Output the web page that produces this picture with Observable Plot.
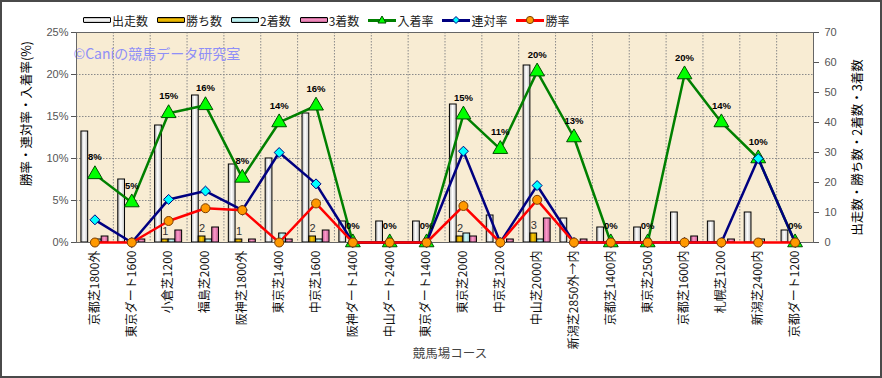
<!DOCTYPE html>
<html>
<head>
<meta charset="utf-8">
<script src="https://cdn.jsdelivr.net/npm/d3@7"></script>
<script src="https://cdn.jsdelivr.net/npm/@observablehq/plot@0.6"></script>
<style>
  body { margin: 0; background: #fff; }
  #wrap { position: relative; width: 882px; height: 378px; overflow: hidden;
          font-family: "Liberation Sans", "Noto Sans CJK JP", sans-serif; }
  #frame { position: absolute; left: 0; top: 0; width: 882px; height: 378px; box-sizing: border-box;
           border: 2px solid #4a4a4a; pointer-events: none; }
  #legend { position: absolute; left: 83px; top: 12px; display: flex; gap: 9px; align-items: center;
            font-size: 12px; color: #222; font-family: "Noto Sans CJK JP", "Liberation Sans", sans-serif; }
  .item { display: flex; align-items: center; gap: 1px; height: 16px; }
  .sw { width: 26px; height: 4px; border: 1.5px solid #000; border-radius: 1px; }
  .ln { position: relative; width: 28px; height: 3px; }
  .mk { position: absolute; left: 50%; top: 50%; transform: translate(-50%, -50%); }
</style>
</head>
<body>
<div id="wrap">
  <div id="chart"></div>
  <div id="legend"></div>
  <div id="frame"></div>
</div>
<script>
const categories = ["京都芝1800外","東京ダート1600","小倉芝1200","福島芝2000","阪神芝1800外","東京芝1400","中京芝1600","阪神ダート1400","中山ダート2400","東京ダート1400","東京芝2000","中京芝1200","中山芝2000内","新潟芝2850外→内","京都芝1400内","東京芝2500","京都芝1600内","札幌芝1200","新潟芝2400内","京都ダート1200"];
const starts  = [37,21,39,49,26,28,43,7,7,7,46,9,59,8,5,5,10,7,10,4];
const wins    = [0,0,1,2,1,0,2,0,0,0,2,0,3,0,0,0,0,0,0,0];
const seconds = [1,0,1,1,0,3,1,0,0,0,3,0,1,0,0,0,0,0,1,0];
const thirds  = [2,1,4,5,1,1,4,0,0,0,2,1,8,1,0,0,2,1,0,0];
const winRate   = [0,0,2.56,4.08,3.85,0,4.65,0,0,0,4.35,0,5.08,0,0,0,0,0,0,0];
const rentaiRate = [2.70,0,5.13,6.12,3.85,10.71,6.98,0,0,0,10.87,0,6.78,0,0,0,0,0,10.0,0];
const placeRate = [8.11,4.76,15.38,16.33,7.69,14.29,16.28,0,0,0,15.22,11.11,20.34,12.5,0,0,20.0,14.29,10.0,0];
const leftTicks = [0,5,10,15,20,25];
const rightTicks = [0,10,20,30,40,50,60,70];

const W = 882, H = 378, mT = 32, mB = 136, mL = 76, mR = 69;
const k = 25 / 70;
const bw = (W - mL - mR) / categories.length;
const groupW = 27, slotW = groupW / 4, off = (bw - groupW) / 2;

const data = categories.map((c, i) => ({
  c, starts: starts[i], wins: wins[i], seconds: seconds[i], thirds: thirds[i],
  win: winRate[i], rentai: rentaiRate[i], place: placeRate[i]
}));

const barSeries = [
  {key: "starts", grad: "gWhite"},
  {key: "wins", grad: "gGold"},
  {key: "seconds", grad: "gCyan"},
  {key: "thirds", grad: "gPink"}
];

const bars = barSeries.map((s, i) => Plot.barY(data.filter(d => d[s.key] > 0), {
  x: "c", y: d => d[s.key] * k, fill: `url(#${s.grad})`, stroke: "#000", strokeWidth: 1,
  insetLeft: off + slotW * i, insetRight: bw - off - slotW * (i + 1)
}));

const jp = "'Noto Sans CJK JP',sans-serif";
const chart = Plot.plot({
  width: W, height: H, marginTop: mT, marginBottom: mB, marginLeft: mL, marginRight: mR,
  style: {fontFamily: "'Liberation Sans','Noto Sans CJK JP',sans-serif", background: "transparent", overflow: "visible"},
  x: {domain: categories, type: "band", padding: 0, round: false},
  y: {domain: [0, 25]},
  marks: [
    Plot.frame({fill: "#f8ecd3"}),
    Plot.ruleY(leftTicks.slice(1), {stroke: "#8a8a8a", strokeDasharray: "1.5,1.5", strokeWidth: 1}),
    Plot.ruleX(categories.slice(0, -1), {x: d => d, dx: bw / 2, stroke: "#8a8a8a", strokeDasharray: "1.5,1.5", strokeWidth: 1}),
    Plot.text(["©Caniの競馬データ研究室"], {frameAnchor: "top-left", dx: -3, dy: 17, textAnchor: "start", fill: "#8f8ff7", fontSize: 14, fontFamily: jp}),
    ...bars,
    Plot.frame({stroke: "#666", strokeWidth: 1}),
    Plot.text(data.filter(d => d.wins > 0), {x: "c", y: d => d.wins * k, text: d => String(d.wins), dy: -8, dx: -bw / 2 + off + slotW * 1.5, fontSize: 11, fill: "#333"}),
    Plot.line(data, {x: "c", y: "place", stroke: "#008000", strokeWidth: 2.5}),
    Plot.dot(data, {x: "c", y: "place", symbol: "triangle", r: 5.5, fill: "#00ff00", stroke: "#004d00", strokeWidth: 1}),
    Plot.line(data, {x: "c", y: "rentai", stroke: "#000080", strokeWidth: 2.5}),
    Plot.dot(data, {x: "c", y: "rentai", symbol: "diamond2", r: 4.5, fill: "#00ffff", stroke: "#000080", strokeWidth: 1}),
    Plot.line(data, {x: "c", y: "win", stroke: "#ff0000", strokeWidth: 2.5}),
    Plot.dot(data, {x: "c", y: "win", r: 4.5, fill: "#ff9900", stroke: "#7a3d00", strokeWidth: 1}),
    Plot.text(data, {x: "c", y: "place", text: d => Math.round(d.place) + "%", dy: -17, fontSize: 9.5, fontWeight: "bold", fill: "#000"}),
    Plot.axisY(leftTicks, {anchor: "left", tickFormat: d => d + "%", tickSize: 5, tickPadding: 3, fontSize: 11, color: "#555", label: null}),
    Plot.axisY(rightTicks.map(v => v * k), {anchor: "right", tickFormat: d => String(Math.round(d / k)), tickSize: 5, tickPadding: 6, fontSize: 11, color: "#555", label: null}),
    Plot.axisX({tickRotate: -90, tickSize: 0, tickPadding: 8, fontSize: 12, color: "#111", label: null, fontFamily: jp}),
    Plot.text(["勝率・連対率・入着率(%)"], {frameAnchor: "left", textAnchor: "middle", dx: -50, dy: -24, rotate: -90, fontSize: 12.5, fill: "#000", fontFamily: jp}),
    Plot.text(["出走数・勝ち数・2着数・3着数"], {frameAnchor: "right", textAnchor: "middle", dx: 44, dy: 10, rotate: -90, fontSize: 12.5, fill: "#000", fontFamily: jp}),
    Plot.text(["競馬場コース"], {frameAnchor: "bottom", dx: 5, dy: 115, fontSize: 12.5, fill: "#444", fontFamily: jp})
  ]
});

const svg = chart.tagName.toLowerCase() === "svg" ? chart : chart.querySelector("svg");
const grads = {
  gWhite: ["#b4b4b4", "#ffffff", "#c4c4c4"],
  gGold: ["#a87a00", "#ffcc00", "#b08400"],
  gCyan: ["#8cbcbc", "#ccffff", "#94c4c4"],
  gPink: ["#b85c8a", "#ff99cc", "#c0628f"]
};
const defs = d3.select(svg).insert("defs", ":first-child");
for (const [id, cols] of Object.entries(grads)) {
  const g = defs.append("linearGradient").attr("id", id).attr("x1", "0").attr("x2", "1").attr("y1", "0").attr("y2", "0");
  g.append("stop").attr("offset", "0%").attr("stop-color", cols[0]);
  g.append("stop").attr("offset", "45%").attr("stop-color", cols[1]);
  g.append("stop").attr("offset", "100%").attr("stop-color", cols[2]);
}
document.getElementById("chart").appendChild(chart);

// legend
const legendItems = [
  {label: "出走数", type: "bar", cols: grads.gWhite},
  {label: "勝ち数", type: "bar", cols: grads.gGold},
  {label: "2着数", type: "bar", cols: grads.gCyan},
  {label: "3着数", type: "bar", cols: grads.gPink},
  {label: "入着率", type: "line", stroke: "#008000", marker: "tri"},
  {label: "連対率", type: "line", stroke: "#000080", marker: "dia"},
  {label: "勝率", type: "line", stroke: "#ff0000", marker: "cir"}
];
const leg = document.getElementById("legend");
for (const it of legendItems) {
  const item = document.createElement("div");
  item.className = "item";
  let sw;
  if (it.type === "bar") {
    sw = document.createElement("div");
    sw.className = "sw";
    sw.style.background = `linear-gradient(to bottom, ${it.cols[0]}, ${it.cols[1]} 45%, ${it.cols[2]})`;
  } else {
    sw = document.createElement("div");
    sw.className = "ln";
    sw.style.background = it.stroke;
    const mk = document.createElementNS("http://www.w3.org/2000/svg", "svg");
    mk.setAttribute("class", "mk");
    mk.setAttribute("width", "10"); mk.setAttribute("height", "10");
    mk.setAttribute("viewBox", "-5 -5 10 10");
    if (it.marker === "tri") mk.innerHTML = '<path d="M0,-4L4,3L-4,3Z" fill="#00ff00" stroke="#004d00" stroke-width="1"/>';
    else if (it.marker === "dia") mk.innerHTML = '<path d="M0,-3.5L3.5,0L0,3.5L-3.5,0Z" fill="#00ffff" stroke="#000080" stroke-width="1"/>';
    else mk.innerHTML = '<circle r="3.6" fill="#ff9900" stroke="#7a3d00" stroke-width="1"/>';
    sw.appendChild(mk);
  }
  const tx = document.createElement("span");
  tx.textContent = it.label;
  item.appendChild(sw);
  item.appendChild(tx);
  leg.appendChild(item);
}
</script>
</body>
</html>
